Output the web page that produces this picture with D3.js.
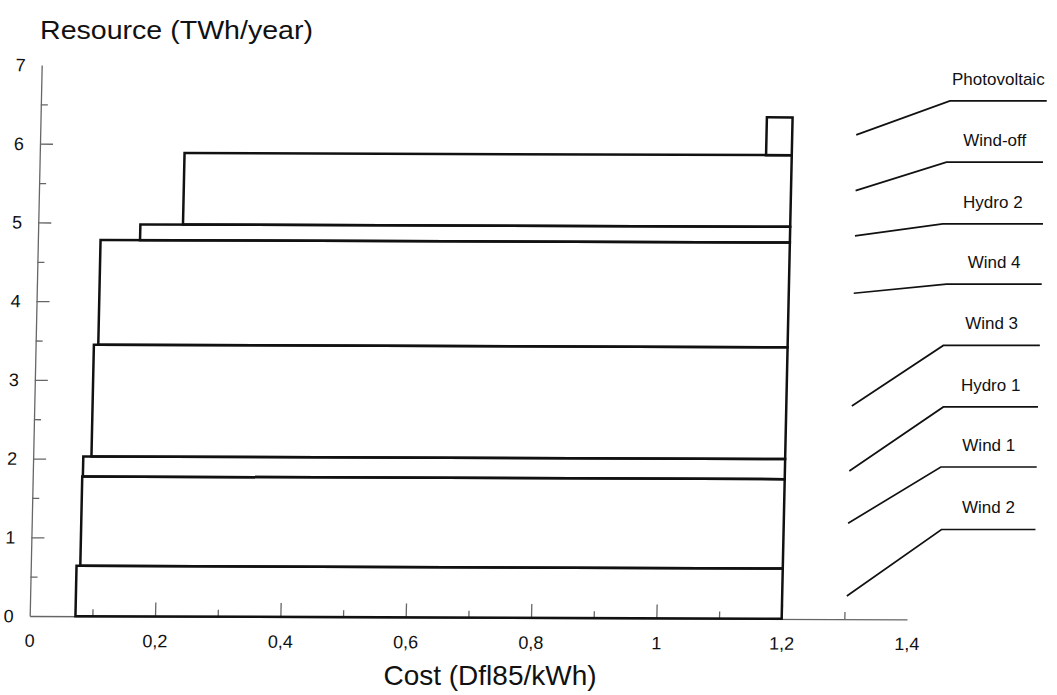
<!DOCTYPE html>
<html>
<head>
<meta charset="utf-8">
<script src="https://cdn.jsdelivr.net/npm/d3@7"></script>
<style>
  html, body { margin: 0; padding: 0; background: #fff; }
  svg { display: block; font-family: "Liberation Sans", Arial, Helvetica, sans-serif; }
</style>
</head>
<body>
<svg id="chart" width="1057" height="695"></svg>
<script>
// ---- data ----
const sources      = ["Wind 2", "Wind 1", "Hydro 1", "Wind 3", "Wind 4", "Hydro 2", "Wind-off", "Photovoltaic"];
const costFrom     = [0.073, 0.079, 0.080, 0.093, 0.100, 0.163, 0.231, 1.159];   // Dfl85/kWh
const costTo       = [1.2, 1.2, 1.2, 1.2, 1.2, 1.2, 1.2, 1.2];
const resourceTop  = [0.64, 1.775, 2.03, 3.45, 4.78, 4.98, 5.89, 6.37];          // cumulative TWh/year
const xTickValues  = [0, 0.2, 0.4, 0.6, 0.8, 1, 1.2, 1.4];
const xTickLabels  = ["0", "0,2", "0,4", "0,6", "0,8", "1", "1,2", "1,4"];
const xMinorTicks  = [0.1, 0.3, 0.5, 0.7, 0.9, 1.1, 1.3];
const yTickValues  = [0, 1, 2, 3, 4, 5, 6, 7];
const yTickLabels  = ["0", "1", "2", "3", "4", "5", "6", "7"];
const yMajorTicks  = [1, 2, 3, 4, 5, 6];
const yMinorTicks  = [0.5, 1.5, 2.5, 3.5, 4.5, 5.5, 6.5];

// ---- annotation layout (leader lines, in data units) ----
const leaderStartX = [1.304, 1.306, 1.308, 1.312, 1.315, 1.317, 1.318, 1.319];
const leaderStartY = [0.254, 1.178, 1.842, 2.668, 4.100, 4.828, 5.404, 6.112];
const leaderBendX  = [1.455, 1.454, 1.458, 1.458, 1.463, 1.457, 1.463, 1.4685];
const leaderBendY  = [1.099, 1.893, 2.656, 3.437, 4.215, 4.981, 5.765, 6.544];
const leaderEndX   = [1.605, 1.607, 1.609, 1.612, 1.615, 1.617, 1.617, 1.623];

// ---- layout ----
const svg = d3.select("#chart");
const x = d3.scaleLinear().domain([0, 1.4]).range([29.7, 907]);
const y = d3.scaleLinear().domain([0, 7]).range([616, 65]);
const ink = "#111";
const axisGray = "#666";

// slight skew of the scanned original
const k1 = 12 / 551, k2 = 0.0038;
const plot = svg.append("g")
  .attr("transform", `matrix(1, ${k2}, ${-k1}, 1, ${k1 * 616}, ${-k2 * 30})`);

// x axis: line + upward ticks
const gxMajor = plot.append("g").attr("transform", `translate(0,${y(0)})`)
  .call(d3.axisTop(x).tickValues(xTickValues.filter(v => v > 0 && v < 1.4)).tickSize(14).tickSizeOuter(0).tickFormat(""));
const gxMinor = plot.append("g").attr("transform", `translate(0,${y(0)})`)
  .call(d3.axisTop(x).tickValues(xMinorTicks).tickSize(7).tickFormat(""));
gxMinor.select(".domain").remove();
const gxLab = plot.append("g").attr("transform", `translate(0,${y(0)})`)
  .call(d3.axisBottom(x).tickValues(xTickValues).tickSize(0).tickPadding(18)
    .tickFormat((d, i) => xTickLabels[i]));
gxLab.select(".domain").remove();

// y axis: line + rightward ticks
const gyMajor = plot.append("g").attr("transform", `translate(${x(0)},0)`)
  .call(d3.axisRight(y).tickValues(yMajorTicks).tickSize(13).tickSizeOuter(0).tickFormat(""));
const gyMinor = plot.append("g").attr("transform", `translate(${x(0)},0)`)
  .call(d3.axisRight(y).tickValues(yMinorTicks).tickSize(7).tickFormat(""));
gyMinor.select(".domain").remove();
const gyLab = plot.append("g").attr("transform", `translate(${x(0)},0)`)
  .call(d3.axisLeft(y).tickValues(yTickValues).tickSize(0).tickPadding(16)
    .tickFormat((d, i) => yTickLabels[i]));
gyLab.select(".domain").remove();

[gxMajor, gxMinor, gyMajor, gyMinor].forEach(g => {
  g.selectAll("path, line").attr("stroke", axisGray).attr("stroke-width", 1.3);
});
[gxLab, gyLab].forEach(g => {
  g.selectAll("text").attr("fill", ink).attr("font-size", 18)
    .attr("font-family", "'Liberation Sans', Arial, sans-serif");
});

// cost-resource steps
const steps = sources.map((s, i) => ({
  name: s, x0: costFrom[i], x1: costTo[i],
  y0: i === 0 ? 0 : resourceTop[i - 1], y1: resourceTop[i]
}));
plot.append("g").selectAll("rect").data(steps).join("rect")
  .attr("x", d => x(d.x0))
  .attr("width", d => x(d.x1) - x(d.x0))
  .attr("y", d => y(d.y1))
  .attr("height", d => y(d.y0) - y(d.y1))
  .attr("fill", "none")
  .attr("stroke", ink)
  .attr("stroke-width", 2.5);

// axis titles
svg.append("text").attr("x", 40).attr("y", 39)
  .attr("font-size", 26).attr("fill", ink)
  .attr("textLength", 273).attr("lengthAdjust", "spacingAndGlyphs")
  .text("Resource (TWh/year)");
svg.append("text").attr("x", 490).attr("y", 685).attr("text-anchor", "middle")
  .attr("font-size", 28).attr("fill", ink)
  .text("Cost (Dfl85/kWh)");

// leader lines + labels
const ann = svg.append("g");
const leaders = sources.map((s, i) => ({
  name: s,
  pts: [[leaderStartX[i], leaderStartY[i]], [leaderBendX[i], leaderBendY[i]], [leaderEndX[i], leaderBendY[i]]]
}));
ann.selectAll("path").data(leaders).join("path")
  .attr("d", d => d3.line().x(p => x(p[0])).y(p => y(p[1]))(d.pts))
  .attr("fill", "none").attr("stroke", ink).attr("stroke-width", 1.7);
ann.selectAll("text").data(leaders).join("text")
  .attr("x", d => (x(d.pts[1][0]) + x(d.pts[2][0])) / 2)
  .attr("y", d => y(d.pts[1][1]) - 16)
  .attr("text-anchor", "middle")
  .attr("font-size", 17).attr("fill", ink)
  .text(d => d.name);
</script>
</body>
</html>
